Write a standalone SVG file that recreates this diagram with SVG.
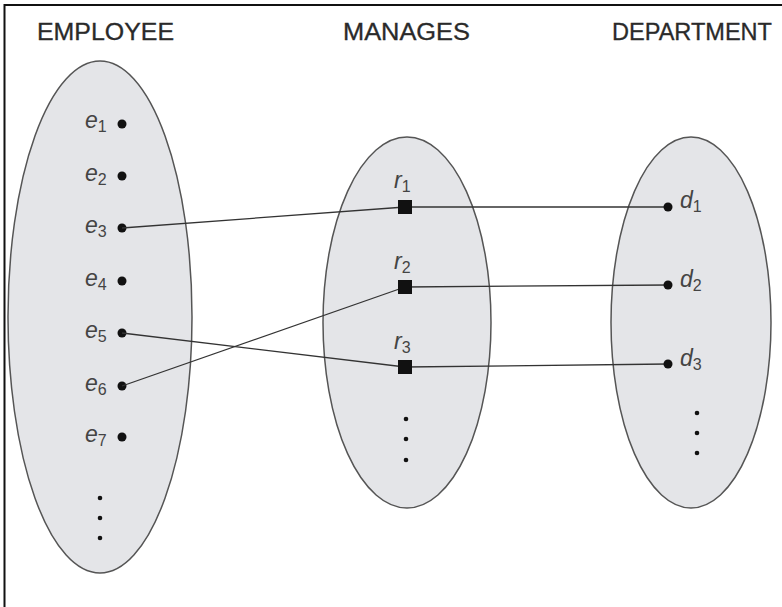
<svg xmlns="http://www.w3.org/2000/svg" width="782" height="607" viewBox="0 0 782 607">
<style>
.set{fill:#e4e5e8;stroke:#555;stroke-width:1.5}
.hdr{font-family:"Liberation Sans",Arial,sans-serif;font-size:23px;fill:#2a2a2a;stroke:#2a2a2a;stroke-width:0.3}
.lbl{font-family:"Liberation Sans",Arial,sans-serif;font-size:23px;font-style:italic;fill:#444}
.sub{font-size:16px;font-style:normal}
.dot{fill:#111}
.sm{fill:#111}
.conn{stroke:#333;stroke-width:1.3;fill:none}
</style>
<rect x="0" y="0" width="782" height="607" fill="#fff"/>
<path d="M4.5,607 V5 H782" fill="none" stroke="#111" stroke-width="2"/>
<g id="headers">
<text class="hdr" x="37" y="40" textLength="137" lengthAdjust="spacingAndGlyphs">EMPLOYEE</text>
<text class="hdr" x="343" y="40" textLength="127" lengthAdjust="spacingAndGlyphs">MANAGES</text>
<text class="hdr" x="612" y="40" textLength="160" lengthAdjust="spacingAndGlyphs">DEPARTMENT</text>
</g>
<g id="employee">
<ellipse class="set" cx="100" cy="317" rx="92" ry="256"/>
<g class="lbl">
<text x="85" y="128">e<tspan class="sub" dy="4">1</tspan></text>
<text x="85" y="181">e<tspan class="sub" dy="4">2</tspan></text>
<text x="85" y="233">e<tspan class="sub" dy="4">3</tspan></text>
<text x="85" y="286">e<tspan class="sub" dy="4">4</tspan></text>
<text x="85" y="338">e<tspan class="sub" dy="4">5</tspan></text>
<text x="85" y="391">e<tspan class="sub" dy="4">6</tspan></text>
<text x="85" y="442">e<tspan class="sub" dy="4">7</tspan></text>
</g>
<circle class="dot" cx="122" cy="124" r="4.5"/>
<circle class="dot" cx="122" cy="176" r="4.5"/>
<circle class="dot" cx="122" cy="228" r="4.5"/>
<circle class="dot" cx="122" cy="281" r="4.5"/>
<circle class="dot" cx="122" cy="333" r="4.5"/>
<circle class="dot" cx="122" cy="386" r="4.5"/>
<circle class="dot" cx="122" cy="437" r="4.5"/>
<circle class="sm" cx="100" cy="498" r="2.3"/>
<circle class="sm" cx="100" cy="518" r="2.3"/>
<circle class="sm" cx="100" cy="538" r="2.3"/>
</g>
<g id="manages">
<ellipse class="set" cx="407" cy="322.5" rx="84" ry="185.5"/>
<g class="lbl">
<text x="394" y="188">r<tspan class="sub" dy="4">1</tspan></text>
<text x="394" y="269">r<tspan class="sub" dy="4">2</tspan></text>
<text x="394" y="349">r<tspan class="sub" dy="4">3</tspan></text>
</g>
<circle class="sm" cx="406" cy="419" r="2.3"/>
<circle class="sm" cx="406" cy="439" r="2.3"/>
<circle class="sm" cx="406" cy="460" r="2.3"/>
</g>
<g id="department">
<ellipse class="set" cx="691" cy="322.5" rx="80" ry="185.5"/>
<g class="lbl">
<text x="680" y="208">d<tspan class="sub" dy="4">1</tspan></text>
<text x="680" y="287">d<tspan class="sub" dy="4">2</tspan></text>
<text x="680" y="366">d<tspan class="sub" dy="4">3</tspan></text>
</g>
<circle class="sm" cx="697" cy="413" r="2.3"/>
<circle class="sm" cx="697" cy="433" r="2.3"/>
<circle class="sm" cx="697" cy="453" r="2.3"/>
</g>
<g id="connectors">
<line class="conn" x1="122" y1="228" x2="405" y2="207"/>
<line class="conn" x1="405" y1="207" x2="668" y2="207"/>
<line class="conn" x1="122" y1="386" x2="405" y2="287"/>
<line class="conn" x1="405" y1="287" x2="668" y2="285"/>
<line class="conn" x1="122" y1="333" x2="405" y2="367"/>
<line class="conn" x1="405" y1="367" x2="668" y2="364"/>
</g>
<g id="relationship-nodes">
<rect class="dot" x="398" y="200" width="14" height="14"/>
<rect class="dot" x="398" y="280" width="14" height="14"/>
<rect class="dot" x="398" y="360" width="14" height="14"/>
</g>
<g id="department-nodes">
<circle class="dot" cx="668" cy="207" r="4.5"/>
<circle class="dot" cx="668" cy="285" r="4.5"/>
<circle class="dot" cx="668" cy="364" r="4.5"/>
</g>
</svg>
